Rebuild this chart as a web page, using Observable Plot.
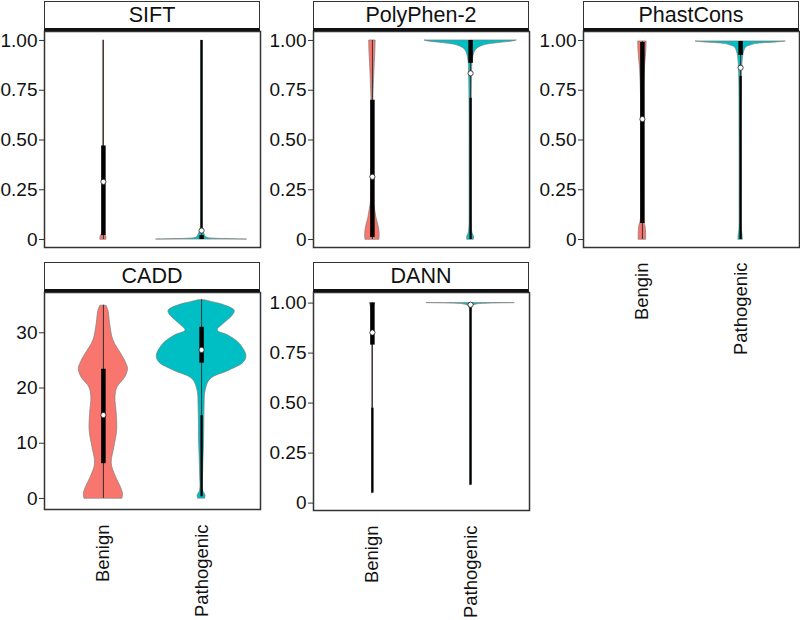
<!DOCTYPE html>
<html><head><meta charset="utf-8">
<script src="https://cdn.jsdelivr.net/npm/d3@7"></script>
<script src="https://cdn.jsdelivr.net/npm/@observablehq/plot@0.6"></script>
<style>
body{margin:0;background:#fff;font-family:"Liberation Sans",Arial,sans-serif;}
#chart{position:relative;width:800px;height:620px;overflow:hidden;background:#fff;}
.strip{position:absolute;box-sizing:border-box;border:1.5px solid #333;border-bottom:3px solid #111;background:#fff;text-align:center;font-size:21.5px;color:#111;line-height:26px;}
.panel{position:absolute;}
</style></head><body><div id="chart"></div><script>
// ---------- data ----------
const facets = ["SIFT", "PolyPhen-2", "PhastCons", "CADD", "DANN"];
const groups = ["Benign", "Pathogenic"];
const xTickLabels = [
  ["Benign", "Pathogenic"], ["Benign", "Pathogenic"], ["Bengin", "Pathogenic"],
  ["Benign", "Pathogenic"], ["Benign", "Pathogenic"]
];
const scoreTicks = [0, 0.25, 0.5, 0.75, 1];
const scoreTickLabels = ["0", "0.25", "0.50", "0.75", "1.00"];
const caddTicks = [0, 10, 20, 30];
const caddTickLabels = ["0", "10", "20", "30"];

// violin density profiles (score, relative density)
const siftBenignScore = [0, 0.01, 0.02, 0.03, 0.06, 0.2, 0.5, 0.8, 1.0];
const siftBenignDensity = [0.065, 0.065, 0.054, 0.022, 0.013, 0.011, 0.011, 0.011, 0.011];
const siftPathScore = [0, 0.002, 0.004, 0.008, 0.015, 0.025, 0.035, 0.05, 0.1, 0.4, 0.7, 1.0];
const siftPathDensity = [0.978, 0.652, 0.304, 0.130, 0.087, 0.065, 0.043, 0.022, 0.011, 0.009, 0.009, 0.009];

const polyBenignScore = [0, 0.02, 0.05, 0.08, 0.11, 0.14, 0.17, 0.2, 0.3, 0.5, 0.7, 0.8, 0.88, 0.95, 1.0];
const polyBenignDensity = [0.152, 0.157, 0.148, 0.120, 0.087, 0.065, 0.043, 0.028, 0.017, 0.015, 0.020, 0.035, 0.050, 0.065, 0.070];
const polyPathScore = [0, 0.015, 0.03, 0.06, 0.1, 0.3, 0.5, 0.7, 0.8, 0.883, 0.917, 0.93, 0.95, 0.96, 0.975, 0.988, 0.995, 1.0];
const polyPathDensity = [0.072, 0.072, 0.043, 0.026, 0.022, 0.022, 0.022, 0.024, 0.030, 0.039, 0.059, 0.072, 0.109, 0.152, 0.283, 0.652, 0.913, 1.0];

const phastBenignScore = [0, 0.03, 0.065, 0.1, 0.3, 0.5, 0.7, 0.85, 0.9, 0.95, 0.995];
const phastBenignDensity = [0.080, 0.080, 0.068, 0.033, 0.026, 0.026, 0.028, 0.050, 0.068, 0.085, 0.092];
const phastPathScore = [0, 0.02, 0.05, 0.2, 0.5, 0.8, 0.88, 0.917, 0.94, 0.95, 0.967, 0.975, 0.983, 0.99, 0.995];
const phastPathDensity = [0.048, 0.043, 0.026, 0.022, 0.022, 0.028, 0.039, 0.054, 0.072, 0.087, 0.130, 0.217, 0.348, 0.783, 0.978];

const caddBenignScore = [0, 0.8, 2, 3.9, 6.3, 9.3, 12.3, 15.3, 18.3, 20.1, 21.9, 23.4, 24.6, 26.1, 28.6, 31.6, 34, 34.9];
const caddBenignDensity = [0.413, 0.424, 0.380, 0.272, 0.180, 0.239, 0.298, 0.289, 0.261, 0.304, 0.472, 0.533, 0.489, 0.391, 0.217, 0.146, 0.109, 0.065];
const caddPathScore = [0, 0.5, 1.4, 4.5, 10.5, 16.5, 19.5, 21.6, 23.1, 24.6, 25.8, 28, 29.5, 30.4, 31.6, 33.1, 34, 35.2, 35.5, 35.9];
const caddPathDensity = [0.076, 0.087, 0.033, 0.033, 0.054, 0.065, 0.087, 0.196, 0.587, 0.913, 0.972, 0.826, 0.580, 0.348, 0.478, 0.674, 0.717, 0.413, 0.261, 0.065];

const dannBenignScore = [0.05, 0.3, 0.5, 0.7, 0.9, 0.97, 0.99, 1.0];
const dannBenignDensity = [0.007, 0.007, 0.007, 0.007, 0.011, 0.022, 0.043, 0.060];
const dannPathScore = [0.09, 0.3, 0.6, 0.9, 0.97, 0.985, 0.993, 0.998, 1.0];
const dannPathDensity = [0.007, 0.007, 0.007, 0.009, 0.017, 0.043, 0.130, 0.435, 0.957];

// box plot statistics [Benign, Pathogenic] per facet
const boxQ1 = [[0.02, 0], [0.01, 0.885], [0.08, 0.925], [6.3, 24.5], [0.79, 0.99]];
const boxQ3 = [[0.47, 0.02], [0.70, 1.0], [0.99, 0.995], [23.4, 31], [1.0, 1.0]];
const whiskerLow = [[0, 0], [0, 0.71], [0, 0.82], [0, 15], [0.475, 0.985]];
const whiskerHigh = [[1.0, 0.05], [1.0, 1.0], [0.995, 0.995], [35, 36], [1.0, 1.0]];
const meanScore = [[0.29, 0.045], [0.315, 0.835], [0.605, 0.863], [15.1, 26.9], [0.853, 0.992]];
const outlierLow = [[null, 0.05], [null, 0], [null, 0], [null, 0.3], [0.05, 0.09]];
const outlierHigh = [[null, 1.0], [null, 0.71], [null, 0.82], [null, 15], [0.475, 0.985]];

// ---------- assembly ----------
const violinScores = [
  [siftBenignScore, siftPathScore], [polyBenignScore, polyPathScore], [phastBenignScore, phastPathScore],
  [caddBenignScore, caddPathScore], [dannBenignScore, dannPathScore]
];
const violinDensities = [
  [siftBenignDensity, siftPathDensity], [polyBenignDensity, polyPathDensity], [phastBenignDensity, phastPathDensity],
  [caddBenignDensity, caddPathDensity], [dannBenignDensity, dannPathDensity]
];
const groupColors = ["#F8766D", "#00BFC4"];

const layout = [
  {left: 44, stripTop: 1, top: 31, bottom: 247, xAxis: false, yDomain: [-0.04, 1.045]},
  {left: 313, stripTop: 1, top: 31, bottom: 247, xAxis: false, yDomain: [-0.04, 1.045]},
  {left: 583, stripTop: 1, top: 31, bottom: 247, xAxis: true, yDomain: [-0.04, 1.045]},
  {left: 44, stripTop: 262, top: 292, bottom: 509, xAxis: true, yDomain: [-2.0, 37.3]},
  {left: 313, stripTop: 262, top: 292, bottom: 510, xAxis: true, yDomain: [-0.037, 1.053]}
];
const panelWidth = 216;
const halfWidth = 0.47; // violin half width (x units) at relative density 1

const chart = document.getElementById("chart");

facets.forEach((name, f) => {
  const L = layout[f];
  const isCadd = name === "CADD";
  const ticks = isCadd ? caddTicks : scoreTicks;
  const tickLabels = isCadd ? caddTickLabels : scoreTickLabels;

  const violinRows = [];
  groups.forEach((g, gi) => {
    violinScores[f][gi].forEach((s, i) => {
      violinRows.push({group: g, pos: gi + 1, score: s, density: violinDensities[f][gi][i]});
    });
  });
  const boxRows = groups.map((g, gi) => ({
    group: g, pos: gi + 1,
    q1: boxQ1[f][gi], q3: boxQ3[f][gi],
    wlo: whiskerLow[f][gi], whi: whiskerHigh[f][gi],
    mean: meanScore[f][gi],
    olo: outlierLow[f][gi], ohi: outlierHigh[f][gi]
  }));
  const outlierRows = boxRows.filter(d => d.olo != null);

  const marginBottom = L.xAxis ? 620 - L.bottom : 2;
  const marginLeft = 44, marginRight = 2, marginTop = 1;
  const innerH = L.bottom - L.top;

  const marks = [];
  groups.forEach((g, gi) => {
    marks.push(Plot.areaX(violinRows.filter(d => d.group === g), {
      y: "score",
      x1: d => d.pos - d.density * halfWidth,
      x2: d => d.pos + d.density * halfWidth,
      fill: groupColors[gi], stroke: "#808080", strokeWidth: 0.7,
      curve: "catmull-rom"
    }));
  });
  marks.push(
    Plot.ruleX(boxRows, {x: "pos", y1: "wlo", y2: "whi", stroke: "#333", strokeWidth: 1}),
    Plot.ruleX(outlierRows, {x: "pos", y1: "olo", y2: "ohi", stroke: "#000", strokeWidth: 2.3}),
    Plot.ruleX(boxRows, {x: "pos", y1: "q1", y2: "q3", stroke: "#000", strokeWidth: 4.5}),
    Plot.dot(boxRows, {x: "pos", y: "mean", r: 2.6, fill: "white", stroke: "#222", strokeWidth: 0.8}),
    Plot.frame({stroke: "#333", strokeWidth: 1.5}),
    Plot.axisY({ticks, tickFormat: d => tickLabels[ticks.indexOf(d)], tickSize: 5, tickPadding: 2, stroke: "#333", fill: "#111", label: null})
  );
  if (L.xAxis) {
    marks.push(Plot.axisX({ticks: [1, 2], tickFormat: d => xTickLabels[f][d - 1], tickRotate: -90, tickSize: 0, tickPadding: 15, fill: "#111", fontSize: 18.5, label: null}));
  }

  const svg = Plot.plot({
    width: marginLeft + panelWidth + marginRight,
    height: marginTop + innerH + marginBottom,
    marginLeft, marginRight, marginTop, marginBottom,
    x: {domain: [0.4, 2.6], axis: null},
    y: {domain: L.yDomain, axis: null},
    style: {fontSize: "19px", fontFamily: "'Liberation Sans', Arial, sans-serif", color: "#111", background: "transparent", overflow: "visible"},
    marks
  });
  svg.classList.add("panel");
  svg.style.left = (L.left - marginLeft) + "px";
  svg.style.top = (L.top - marginTop) + "px";
  chart.appendChild(svg);

  const strip = document.createElement("div");
  strip.className = "strip";
  strip.style.left = L.left + "px";
  strip.style.top = L.stripTop + "px";
  strip.style.width = panelWidth + "px";
  strip.style.height = (L.top - L.stripTop) + "px";
  strip.textContent = name;
  chart.appendChild(strip);
});
</script></body></html>
